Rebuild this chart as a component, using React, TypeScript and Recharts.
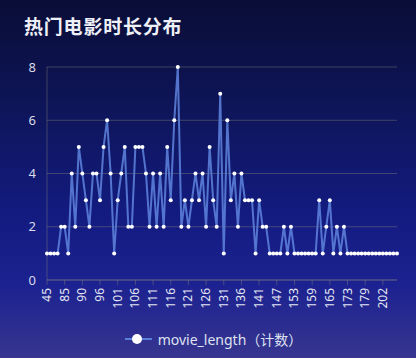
import React from "react";
import {
  LineChart,
  Line,
  XAxis,
  YAxis,
  CartesianGrid,
  Legend,
} from "recharts";

// movie length in minutes (category axis)
const lengths = [
  45, 60, 68, 75, 80, 85,
  86, 87, 88, 89, 90,
  91, 92, 93, 95, 96,
  97, 98, 99, 100, 101,
  102, 103, 104, 105, 106,
  107, 108, 109, 110, 111,
  112, 113, 114, 115, 116,
  117, 118, 119, 120, 121,
  122, 123, 124, 125, 126,
  127, 128, 129, 130, 131,
  132, 133, 134, 135, 136,
  137, 138, 139, 140, 141,
  142, 143, 144, 145, 147,
  148, 149, 150, 152, 153,
  154, 155, 156, 158, 159,
  160, 161, 162, 164, 165,
  166, 168, 170, 172, 173,
  174, 175, 176, 178, 179,
  180, 183, 190, 195, 202,
  210, 218, 225, 238,
];

// number of movies per length
const counts = [
  1, 1, 1, 1, 2, 2, 1, 4, 2, 5,
  4, 3, 2, 4, 4, 3, 5, 6, 4, 1,
  3, 4, 5, 2, 2, 5, 5, 5, 4, 2,
  4, 2, 4, 2, 5, 3, 6, 8, 2, 3,
  2, 3, 4, 3, 4, 2, 5, 3, 2, 7,
  1, 6, 3, 4, 2, 4, 3, 3, 3, 1,
  3, 2, 2, 1, 1, 1, 1, 2, 1, 2,
  1, 1, 1, 1, 1, 1, 1, 3, 1, 2,
  3, 1, 2, 1, 2, 1, 1, 1, 1, 1,
  1, 1, 1, 1, 1, 1, 1, 1, 1, 1,
];

const yTicks = [0, 2, 4, 6, 8];

const data = lengths.map((len, i) => ({ len: String(len), movie_length: counts[i] }));

const FONT = '"Noto Sans", "Noto Sans CJK SC", sans-serif';
const LINE = "#5b7ed8";
const GRID = "rgba(150,145,120,0.38)";

const XTick = ({ x, y, payload }: any) => (
  <g transform={`translate(${x},${y})`}>
    <text
      x={0}
      y={0}
      dy={4}
      transform="rotate(-90)"
      textAnchor="end"
      fill="#e4e6f2"
      fontSize={12}
      fontFamily={FONT}
    >
      {payload.value}
    </text>
  </g>
);

const LegendBox = () => (
  <div
    style={{
      height: 38,
      display: "flex",
      justifyContent: "center",
      alignItems: "center",
      fontFamily: FONT,
      fontSize: 14,
      color: "#dfe2f0",
      paddingLeft: 30,
      boxSizing: "border-box",
    }}
  >
    <svg width={27} height={12} style={{ marginRight: 6 }}>
      <line x1={0} y1={6} x2={27} y2={6} stroke={LINE} strokeWidth={2} />
      <circle cx={12} cy={6} r={5} fill="#ffffff" />
    </svg>
    <span>movie_length（计数）</span>
  </div>
);

export default function App() {
  return (
    <div
      style={{
        position: "absolute",
        left: 0,
        top: 0,
        width: 416,
        height: 358,
        overflow: "hidden",
        background:
          "linear-gradient(180deg, #0a0d36 0%, #0e1559 30%, #131b80 60%, #1c2290 80%, #37358f 100%)",
      }}
    >
      <div
        style={{
          position: "absolute",
          left: 24,
          top: 12,
          fontFamily: '"Noto Sans CJK SC", sans-serif',
          fontWeight: 700,
          fontSize: 19,
          color: "#eef0f8",
          letterSpacing: 0.8,
        }}
      >
        热门电影时长分布
      </div>
      <LineChart
        width={416}
        height={358}
        data={data}
        margin={{ top: 67, right: 19, bottom: 0, left: 0 }}
      >
        <CartesianGrid vertical={false} stroke={GRID} />
        <XAxis
          dataKey="len"
          scale="point"
          padding={{ left: 0, right: 0 }}
          interval={4}
          height={40}
          tick={<XTick />}
          tickSize={5}
          tickMargin={3}
          axisLine={{ stroke: GRID }}
          tickLine={{ stroke: GRID }}
        />
        <YAxis
          width={47}
          domain={[0, 8]}
          ticks={yTicks}
          tickSize={0}
          tickMargin={11}
          axisLine={{ stroke: GRID }}
          tickLine={false}
          tick={{ fill: "#d8dbea", fontSize: 13, fontFamily: FONT }}
        />
        <Legend verticalAlign="bottom" height={38} content={<LegendBox />} />
        <Line
          type="linear"
          dataKey="movie_length"
          stroke={LINE}
          strokeOpacity={0.9}
          strokeWidth={2}
          dot={{ r: 2, fill: "#ffffff", stroke: "none" }}
          activeDot={false}
          isAnimationActive={false}
        />
      </LineChart>
    </div>
  );
}
